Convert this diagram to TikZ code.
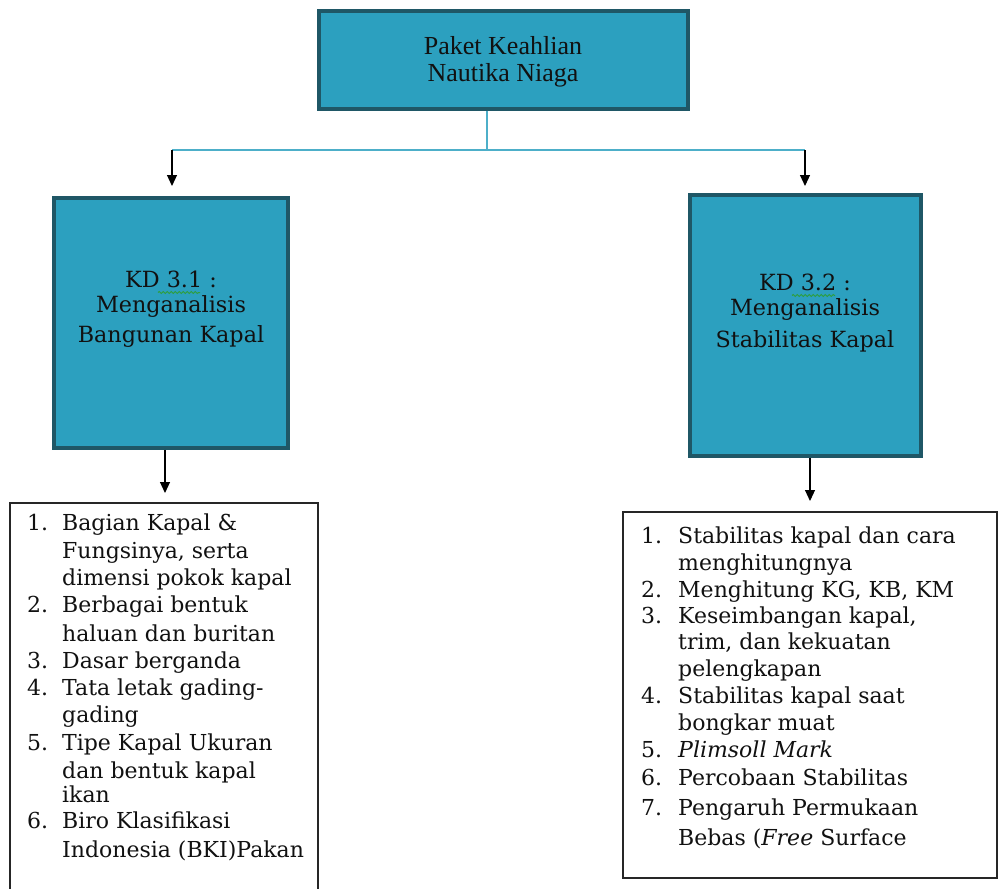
\documentclass[tikz,border=0pt]{standalone}
\usepackage{fontspec}
\setmainfont{DejaVu Serif}
\newfontfamily\topfont{Liberation Serif}
\usetikzlibrary{arrows.meta,decorations.pathmorphing}
\definecolor{boxfill}{HTML}{2CA0BF}
\definecolor{boxedge}{HTML}{1F5766}
\definecolor{linkblue}{HTML}{4DAFC9}
\definecolor{spell}{HTML}{2E9E3E}
\definecolor{ink}{HTML}{111111}
\begin{document}
\begin{tikzpicture}[x=1pt,y=-1pt,
  kdbox/.style={draw=boxedge, line width=3.5pt, fill=boxfill, inner sep=0pt},
  listbox/.style={draw=black!85, line width=1.1pt, inner sep=0pt},
  item/.style={anchor=base west, inner sep=0pt, text=ink, font=\fontsize{22}{26}\selectfont},
  boxtxt/.style={anchor=base, inner sep=0pt, text=ink, font=\fontsize{22.3}{26}\selectfont},
  toptxt/.style={anchor=base, inner sep=0pt, text=ink, font=\topfont\fontsize{26}{30}\selectfont},
  arr/.style={-{Triangle[length=11pt,width=10pt]}, line width=1.1pt, black},
  link/.style={linkblue, line width=1.4pt},
  wavy/.style={spell, line width=1pt, decorate, decoration={snake, amplitude=1pt, segment length=4pt}}]
\clip (0,0) rectangle (1003,888);
\fill[white] (0,0) rectangle (1003,888);
% boxes
\node[kdbox, minimum width=369pt, minimum height=98pt] (top) at (503.5,60) {};
\node[kdbox, minimum width=234pt, minimum height=250pt] (kdL) at (171,323) {};
\node[kdbox, minimum width=231pt, minimum height=261pt] (kdR) at (805.5,325.5) {};
\node[listbox, minimum width=308pt, minimum height=420pt] (listL) at (164,713) {};
\node[listbox, minimum width=374pt, minimum height=366pt] (listR) at (810,695) {};
% top text
\node[toptxt] (t1) at (503,55) {Paket Keahlian};
\node[toptxt] (t2) at (503,82) {Nautika Niaga};
% KD texts
\node[boxtxt] (l1) at (171,287) {KD 3.1 :};
\node[boxtxt] (l2) at (171,312) {Menganalisis};
\node[boxtxt] (l3) at (171,342) {Bangunan Kapal};
\node[boxtxt] (r1) at (805,290) {KD 3.2 :};
\node[boxtxt] (r2) at (805,315) {Menganalisis};
\node[boxtxt] (r3) at (805,347) {Stabilitas Kapal};
\draw[wavy] (158,292.5) -- (200,292.5);
\draw[wavy] (792,295.5) -- (835,295.5);
% connectors
\coordinate (j) at (487,150);
\coordinate (cL) at (172,150);
\coordinate (cR) at (805,150);
\coordinate (aL) at (172,186);
\coordinate (aR) at (805,186);
\coordinate (bL) at (165,493);
\coordinate (bR) at (810,501);
\draw[link] (top.south -| j) -- (j);
\draw[link] (cL) -- (cR);
\draw[arr] (cL) -- (aL);
\draw[arr] (cR) -- (aR);
\draw[arr] (kdL.south -| bL) -- (bL);
\draw[arr] (kdR.south -| bR) -- (bR);
% left list
\node[item] (n1) at (27,530) {1.};
\node[item] (i1a) at (62,530) {Bagian Kapal \&};
\node[item] (i1b) at (62,558) {Fungsinya, serta};
\node[item] (i1c) at (62,585) {dimensi pokok kapal};
\node[item] (n2) at (27,612) {2.};
\node[item] (i2a) at (62,612) {Berbagai bentuk};
\node[item] (i2b) at (62,641) {haluan dan buritan};
\node[item] (n3) at (27,668) {3.};
\node[item] (i3a) at (62,668) {Dasar berganda};
\node[item] (n4) at (27,695) {4.};
\node[item] (i4a) at (62,695) {Tata letak gading-};
\node[item] (i4b) at (62,722) {gading};
\node[item] (n5) at (27,750) {5.};
\node[item] (i5a) at (62,750) {Tipe Kapal Ukuran};
\node[item] (i5b) at (62,778) {dan bentuk kapal};
\node[item] (i5c) at (62,802) {ikan};
\node[item] (n6) at (27,828) {6.};
\node[item] (i6a) at (62,828) {Biro Klasifikasi};
\node[item] (i6b) at (62,857) {Indonesia (BKI)Pakan};
% right list
\node[item] (m1) at (641,543) {1.};
\node[item] (j1a) at (678,543) {Stabilitas kapal dan cara};
\node[item] (j1b) at (678,570) {menghitungnya};
\node[item] (m2) at (641,597) {2.};
\node[item] (j2a) at (678,597) {Menghitung KG, KB, KM};
\node[item] (m3) at (641,623) {3.};
\node[item] (j3a) at (678,623) {Keseimbangan kapal,};
\node[item] (j3b) at (678,649) {trim, dan kekuatan};
\node[item] (j3c) at (678,676) {pelengkapan};
\node[item] (m4) at (641,703) {4.};
\node[item] (j4a) at (678,703) {Stabilitas kapal saat};
\node[item] (j4b) at (678,730) {bongkar muat};
\node[item] (m5) at (641,757) {5.};
\node[item] (j5a) at (678,757) {\itshape Plimsoll Mark};
\node[item] (m6) at (641,785) {6.};
\node[item] (j6a) at (678,785) {Percobaan Stabilitas};
\node[item] (m7) at (641,815) {7.};
\node[item] (j7a) at (678,815) {Pengaruh Permukaan};
\node[item] (j7b) at (678,845) {Bebas (\textit{Free} Surface};
\end{tikzpicture}
\end{document}
